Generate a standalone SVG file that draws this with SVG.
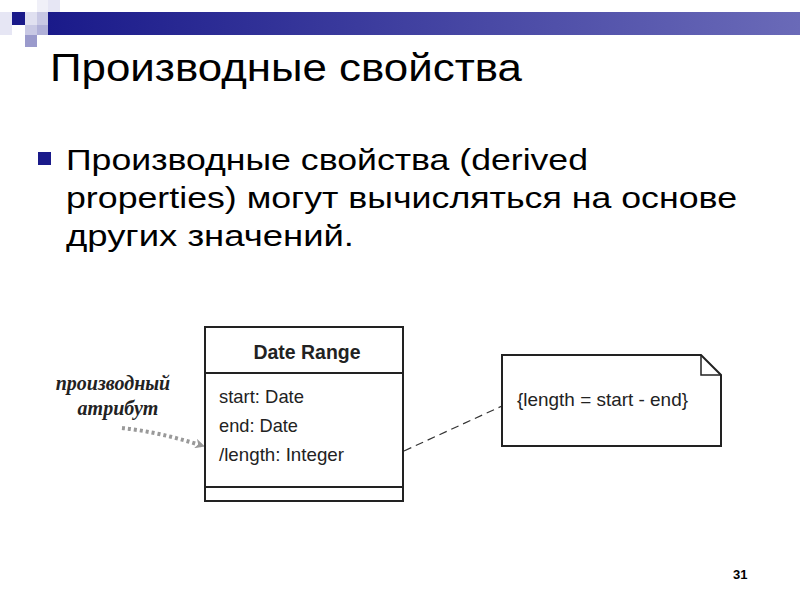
<svg xmlns="http://www.w3.org/2000/svg" width="800" height="600" viewBox="0 0 800 600">
<defs>
<linearGradient id="bar" x1="0" x2="1" y1="0" y2="0"><stop offset="0" stop-color="#1a1a8a"/><stop offset="1" stop-color="#6a6ab8"/></linearGradient>
<marker id="ah" markerWidth="10" markerHeight="10" refX="8" refY="5" orient="auto" markerUnits="userSpaceOnUse"><path d="M0,0 L10,5 L0,10 L3,5 Z" fill="#999"/></marker>
<style>
.t{font-family:"Liberation Sans",Arial,sans-serif;fill:#000}
.u{font-family:"Liberation Sans",Arial,sans-serif;fill:#222;font-size:19px}
.box{fill:#fff;stroke:#222;stroke-width:2}
</style>
</defs>
<rect width="800" height="600" fill="#fff"/>
<g id="deco">
<rect x="0" y="12" width="12" height="23" fill="#e6e6f4"/>
<rect x="12" y="12" width="13" height="13" fill="#1a1a8a"/>
<rect x="25" y="12" width="12" height="13" fill="#e0e0f0"/>
<rect x="37" y="12" width="11" height="13" fill="#c8c8e4"/>
<rect x="48" y="0" width="12" height="12" fill="#e6e6f4"/>
<rect x="37" y="0" width="11" height="12" fill="#f0f0f8"/>
<rect x="25" y="25" width="12" height="10" fill="#c8c8e4"/>
<rect x="37" y="25" width="11" height="10" fill="#b0b0d8"/>
<rect x="25" y="35" width="12" height="12" fill="#9a9acc"/>
<rect x="48" y="12" width="752" height="23" fill="url(#bar)"/>
</g>
<text class="t" x="50" y="81" font-size="38" textLength="472" lengthAdjust="spacingAndGlyphs">Производные свойства</text>
<rect x="38" y="152" width="13" height="13" fill="#1a1a8a"/>
<g class="t" font-size="30">
<text x="66" y="170" textLength="522" lengthAdjust="spacingAndGlyphs">Производные свойства (derived</text>
<text x="66" y="208" textLength="671" lengthAdjust="spacingAndGlyphs">properties) могут вычисляться на основе</text>
<text x="66" y="246" textLength="288" lengthAdjust="spacingAndGlyphs">других значений.</text>
</g>
<g id="connectors">
<line x1="404" y1="451" x2="502" y2="406" stroke="#333" stroke-width="1.2" stroke-dasharray="8,5"/>
<path d="M122,428 Q160,432 203,446" fill="none" stroke="#999" stroke-width="4" stroke-dasharray="3,3" marker-end="url(#ah)"/>
</g>
<g id="daterange">
<rect class="box" x="205" y="327" width="198" height="174"/>
<line x1="205" y1="373" x2="403" y2="373" stroke="#222" stroke-width="2"/>
<line x1="205" y1="487" x2="403" y2="487" stroke="#222" stroke-width="2"/>
<text x="307" y="359" text-anchor="middle" font-family="Liberation Sans, Arial, sans-serif" font-weight="bold" font-size="20" fill="#222" textLength="107" lengthAdjust="spacingAndGlyphs">Date Range</text>
<text class="u" x="219" y="403" textLength="85" lengthAdjust="spacingAndGlyphs">start: Date</text>
<text class="u" x="219" y="432" textLength="79" lengthAdjust="spacingAndGlyphs">end: Date</text>
<text class="u" x="219" y="461" textLength="125" lengthAdjust="spacingAndGlyphs">/length: Integer</text>
</g>
<g id="note">
<path class="box" d="M502,355 H701 L721,375 V446 H502 Z"/>
<path d="M701,355 V375 H721" fill="none" stroke="#222" stroke-width="1.5"/>
<text class="u" x="517" y="406" textLength="171" lengthAdjust="spacingAndGlyphs">{length = start - end}</text>
</g>
<g id="label" font-family="Liberation Serif, serif" font-style="italic" font-weight="bold" font-size="20" fill="#222">
<text x="113" y="390" text-anchor="middle">производный</text>
<text x="118" y="415" text-anchor="middle">атрибут</text>
</g>
<text class="t" x="733" y="579" font-size="13" font-weight="bold">31</text>
</svg>
